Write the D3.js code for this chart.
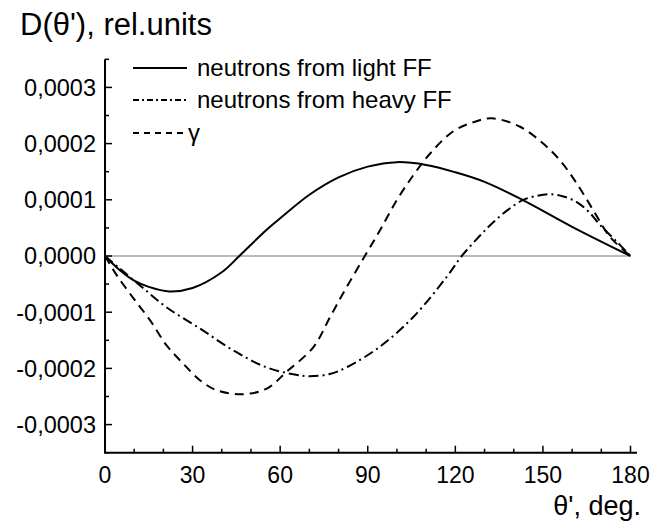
<!DOCTYPE html>
<html><head><meta charset="utf-8">
<script src="https://cdn.jsdelivr.net/npm/d3@7"></script>
<style>
html,body{margin:0;padding:0;background:#fff;}
svg{display:block;font-family:Arial,"Liberation Sans",sans-serif;}
</style></head>
<body>
<svg id="chart" width="651" height="522"></svg>
<script>
// ---- data ----
const xTicks = [0, 30, 60, 90, 120, 150, 180];
const yTicks = [-0.0003, -0.0002, -0.0001, 0, 0.0001, 0.0002, 0.0003];
const seriesNames = ["neutrons from light FF", "neutrons from heavy FF", "\u03b3"];

const thetaLight = [0,5,10,15,22,30,40,46,55,60,70,80,90,100,110,120,130,143,160,180];
const dLight = [0,-0.000025,-0.000044,-0.000055,-0.000063,-0.000057,-0.000029,0,0.000045,0.000067,0.000109,0.000140,0.000159,0.000167,0.000162,0.000149,0.000132,0.000100,0.000052,0];

const thetaHeavy = [0,5,12.6,21,32.5,44,55,65,70,77,83,94,105.6,117,122.2,128.4,133,138,143.3,148,152.4,157,161.6,166,169.6,175,180];
const dHeavy = [0,-0.000022,-0.000055,-0.000091,-0.000129,-0.000168,-0.0001975,-0.000211,-0.000214,-0.000210,-0.0001975,-0.000162,-0.0001085,-0.0000374,0,0.000036,0.000060,0.000082,0.000100,0.000107,0.000110,0.000106,0.000096,0.000077,0.000055,0.000027,0];

const thetaGamma = [0,4,9.7,15.4,21.1,26.8,32.5,38.3,47,55.4,62.2,71.4,77.1,82.8,89,94.2,99.9,105.6,111.3,119.3,126.2,132.5,142.2,150.1,155.9,161.6,167.3,173,180];
const dGamma = [0,-0.000034,-0.000075,-0.000114,-0.000159,-0.0001915,-0.000221,-0.000239,-0.000246,-0.000236,-0.000206,-0.000162,-0.0001085,-0.000055,0,0.0000457,0.000099,0.0001436,0.000182,0.000222,0.000238,0.000245,0.000230,0.000200,0.000170,0.000129,0.000081,0.000034,0];

// ---- layout ----
const svg = d3.select("#chart");
const x = d3.scaleLinear().domain([0, 180]).range([105, 630.5]);
const y = d3.scaleLinear().domain([-0.00035, 0.00035]).range([452.7, 59.3]);

const loc = d3.formatLocale({decimal: ",", thousands: " ", grouping: [3], currency: ["", ""], minus: "-"});
const fmtY = loc.format(".4f");

// zero line
svg.append("line")
  .attr("x1", x(0)).attr("x2", x(180))
  .attr("y1", y(0)).attr("y2", y(0))
  .attr("stroke", "#777").attr("stroke-width", 1.2);

// y axis (ticks pointing inward)
const gy = svg.append("g");
gy.append("line").attr("x1", 105).attr("x2", 105).attr("y1", y(0.00035)).attr("y2", y(-0.00035))
  .attr("stroke", "#000").attr("stroke-width", 2);
d3.range(-7, 8).forEach(i => {
  const v = i * 0.00005;
  const major = Math.abs(i) % 2 === 0;
  gy.append("line").attr("x1", 105).attr("x2", 105 + (major ? 7 : 4))
    .attr("y1", y(v)).attr("y2", y(v)).attr("stroke", "#000").attr("stroke-width", 1.5);
});
gy.selectAll("text.yl").data(yTicks).join("text")
  .attr("class", "yl")
  .attr("x", 96).attr("y", d => y(d)).attr("dy", "0.36em")
  .attr("text-anchor", "end").attr("font-size", 23.5)
  .text(d => fmtY(d));

// x axis
const gx = svg.append("g");
gx.append("line").attr("x1", 104).attr("x2", 637).attr("y1", 452.7).attr("y2", 452.7)
  .attr("stroke", "#000").attr("stroke-width", 2);
d3.range(0, 19).forEach(i => {
  const v = i * 10;
  const major = i % 3 === 0;
  gx.append("line").attr("x1", x(v)).attr("x2", x(v))
    .attr("y1", 452.7).attr("y2", 452.7 - (major ? 7 : 4))
    .attr("stroke", "#000").attr("stroke-width", 1.5);
});
gx.selectAll("text.xl").data(xTicks).join("text")
  .attr("class", "xl")
  .attr("x", d => x(d)).attr("y", 483)
  .attr("text-anchor", "middle").attr("font-size", 23)
  .text(d => d);

// titles
svg.append("text").attr("x", 20).attr("y", 35).attr("font-size", 31).text("D(\u03b8'), rel.units");
svg.append("text").attr("x", 641).attr("y", 515).attr("text-anchor", "end").attr("font-size", 27).text("\u03b8', deg.");

// curves
const line = d3.line().x(d => x(d[0])).y(d => y(d[1])).curve(d3.curveCatmullRom.alpha(0.5));
const series = [
  {t: thetaLight, v: dLight, dash: null},
  {t: thetaHeavy, v: dHeavy, dash: "10,4,2,4"},
  {t: thetaGamma, v: dGamma, dash: "9,6"}
];
series.forEach(s => {
  svg.append("path")
    .datum(s.t.map((t, i) => [t, s.v[i]]))
    .attr("d", line)
    .attr("fill", "none").attr("stroke", "#000").attr("stroke-width", 2)
    .attr("stroke-dasharray", s.dash);
});

// legend
const legY = [68, 100, 133];
const legDash = [null, "6,3,2,3", "6,5"];
seriesNames.forEach((name, i) => {
  svg.append("line").attr("x1", 133).attr("x2", 187).attr("y1", legY[i]).attr("y2", legY[i])
    .attr("stroke", "#000").attr("stroke-width", 2).attr("stroke-dasharray", legDash[i]);
  svg.append("text").attr("x", i === 2 ? 188 : 197).attr("y", legY[i] + 8)
    .attr("font-size", 24).text(name);
});
</script>
</body></html>
